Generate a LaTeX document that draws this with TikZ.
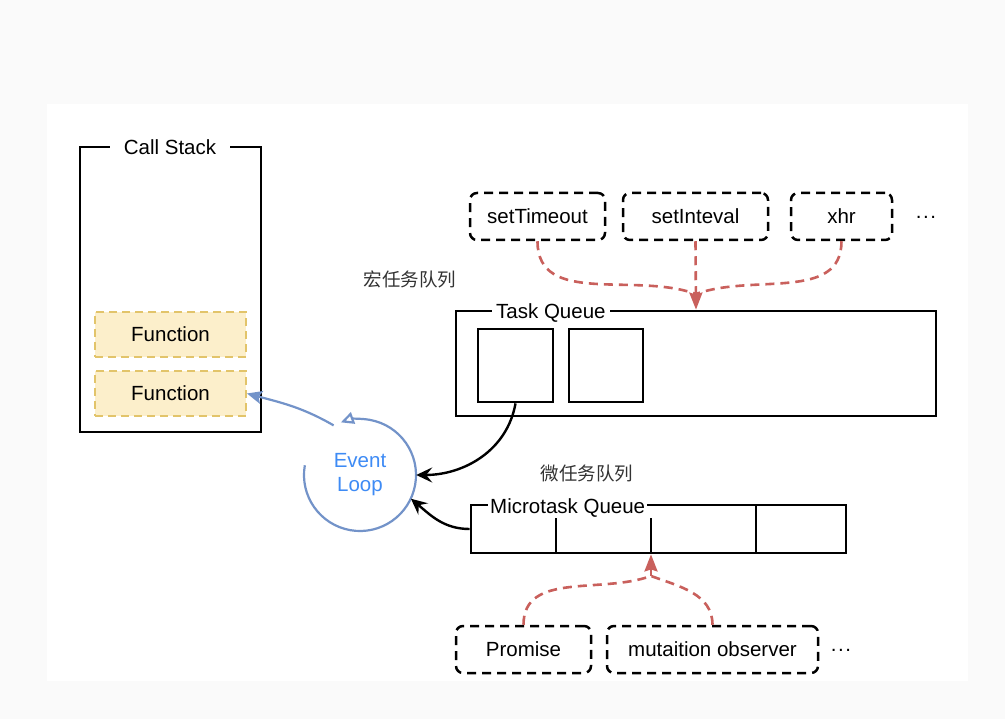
\documentclass[tikz,border=0pt]{standalone}
\usepackage{fontspec}
\setmainfont{Liberation Sans}
\newfontfamily\cjk{Noto Sans CJK SC}
\usetikzlibrary{positioning,arrows.meta}
\definecolor{pagebg}{HTML}{FAFAFA}
\definecolor{fnfill}{HTML}{FCEFCB}
\definecolor{fnline}{HTML}{E2C46A}
\definecolor{srcred}{HTML}{C9605C}
\definecolor{loopblue}{HTML}{7393C9}
\definecolor{looptext}{HTML}{3E8BF5}
\definecolor{notegray}{HTML}{333333}

\begin{document}
\begin{tikzpicture}[x=1pt, y=1pt,
    font=\fontsize{20.5}{24}\selectfont,
    frame/.style = {draw, line width=2.8pt, inner sep=0pt},
    title/.style = {fill=white, inner ysep=1pt, anchor=base west},
    fn/.style = {draw=fnline, fill=fnfill, line width=2pt, dash pattern=on 8pt off 5pt, minimum width=151pt, minimum height=45pt, inner sep=0pt},
    srcbox/.style = {draw, line width=2.5pt, dash pattern=on 9pt off 6pt, rounded corners=7pt, minimum height=47pt, inner sep=0pt},
    src/.style = {draw=srcred, line width=2.6pt, dash pattern=on 9pt off 6pt},
    flow/.style = {draw, line width=2.4pt, -{Stealth[length=16pt, width=15pt, inset=6pt]}},
    note/.style = {font=\cjk\fontsize{18.5}{20}\selectfont, text=notegray}
]
% background
\fill[pagebg] (0,0) rectangle (1005,-719);
\fill[white] (47,-104) rectangle (968,-681);

% call stack
\node (cs) [frame, minimum width=181pt, minimum height=285pt] at (170.5,-289.5) {};
\node (cst) [title, anchor=base, inner xsep=14pt] at (170,-155) {Call Stack};
\node (f1) [fn] at (170.5,-334.5) {Function};
\node (f2) [fn] at (170.5,-393.5) {Function};

% event loop
\node (el) [circle, minimum size=112pt, align=center, text=looptext] at (360,-475) {Event\\Loop};
\draw[loopblue, line width=2.2pt, -{Triangle[open, length=13pt, width=12pt]}] ([shift={(170:56)}]el.center) arc[start angle=170, end angle=470, radius=56];
\draw[loopblue, line width=2.2pt, -{Stealth[length=15pt, width=13pt, inset=3pt]}] (el.118) to[out=150, in=-15] (f2.east);

% task queue
\node (tq) [frame, minimum width=480pt, minimum height=105pt] at (696,-363.5) {};
\node (tqt) [title, inner xsep=4pt] at (492,-319) {Task Queue};
\node (tq1) [frame, minimum width=75pt, minimum height=73pt] at (515.5,-365.5) {};
\node (tq2) [frame, minimum width=74pt, minimum height=73pt] at (606,-365.5) {};

% microtask queue
\node (mq) [frame, minimum width=375pt, minimum height=48pt] at (658.5,-529) {};
\node (mqt) [title, inner xsep=2pt] at (488,-514) {Microtask Queue};
\draw[line width=2.8pt] (556,-518) -- (556,-553);
\draw[line width=2.8pt] (651,-518) -- (651,-553);
\draw[line width=2.8pt] (756,-505) -- (756,-553);

% macro task sources
\node (st) [srcbox, minimum width=135pt] at (537.5,-216.5) {setTimeout};
\node (si) [srcbox, minimum width=145pt] at (695.5,-216.5) {setInteval};
\node (xhr) [srcbox, minimum width=101pt] at (841.5,-216.5) {xhr};
\node (tqdots) at (926,-217) {.\kern1.5pt.\kern1.5pt.};

% micro task sources
\node (pr) [srcbox, minimum width=135pt] at (523.5,-649.5) {Promise};
\node (mo) [srcbox, minimum width=211pt] at (712.5,-649.5) {mutaition observer};
\node (mqdots) at (841,-650) {.\kern1.5pt.\kern1.5pt.};

% notes
\node (macro) [note] at (410,-279) {宏任务队列};
\node (micro) [note] at (587,-474) {微任务队列};

% arrows
\coordinate (tqin) at (696,-294);
\coordinate (mqin) at (651,-576);
\draw[src] (st.south) to[out=-90, in=160] (tqin);
\draw[src] (xhr.south) to[out=-90, in=20] (tqin);
\draw[src, -{Stealth[length=17pt, width=13pt, inset=2pt]}] (si.south) -- (tq.north);
\draw[src] (pr.north) to[out=90, in=-160] (mqin);
\draw[src] (mo.north) to[out=90, in=-20] (mqin);
\draw[src, -{Stealth[length=17pt, width=13pt, inset=2pt]}] (mqin) -- (mqin |- mq.south);
\draw[flow] (tq1.south) to[out=-100, in=0] (el.east);
\draw[flow] (mq.west) to[out=180, in=-40] (el.-25);
\end{tikzpicture}
\end{document}
